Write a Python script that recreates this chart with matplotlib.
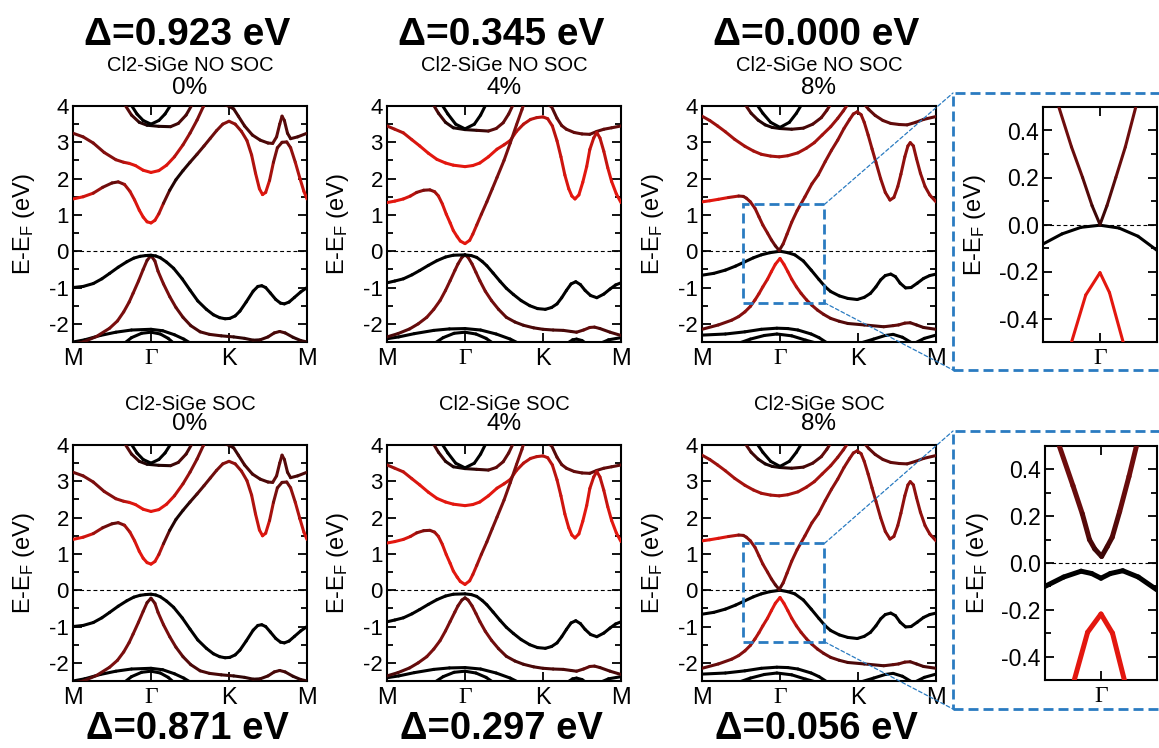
import matplotlib
matplotlib.use('Agg')
import matplotlib.pyplot as plt
import numpy as np
from matplotlib.collections import LineCollection
from matplotlib.colors import LinearSegmentedColormap
from matplotlib.patches import Rectangle, ConnectionPatch
from matplotlib.ticker import MultipleLocator, FormatStrFormatter

plt.rcParams['font.family'] = ['Liberation Sans', 'DejaVu Sans']
plt.rcParams['axes.unicode_minus'] = False
plt.rcParams['mathtext.fontset'] = 'custom'
plt.rcParams['mathtext.rm'] = 'Liberation Sans'
plt.rcParams['mathtext.it'] = 'Liberation Sans:italic'
plt.rcParams['mathtext.bf'] = 'Liberation Sans:bold'

# ---------------- data ----------------
kpath_ticks = [0, 1, 2, 3]
kpath_labels = ['M', 'Γ', 'K', 'M']
strain_labels = ['0%', '4%', '8%']
gap_nosoc = ['Δ=0.923 eV', 'Δ=0.345 eV', 'Δ=0.000 eV']
gap_soc = ['Δ=0.871 eV', 'Δ=0.297 eV', 'Δ=0.056 eV']
title_nosoc = 'Cl2-SiGe NO SOC'
title_soc = 'Cl2-SiGe SOC'

# each band: (k, E, weight)  weight: 0 = black character, 1 = red character
# ---- 0 % ----
cb1_0 = [(0.00,1.44,1.0),(0.13,1.50,1.0),(0.26,1.60,0.8),(0.38,1.76,0.5),(0.50,1.88,0.4),(0.58,1.91,0.4),
         (0.66,1.84,0.6),(0.73,1.65,0.8),(0.79,1.41,0.9),(0.85,1.13,1.0),(0.90,0.94,1.0),(0.95,0.81,1.0),
         (1.00,0.78,1.0),(1.05,0.85,1.0),(1.10,1.03,0.9),(1.16,1.32,0.6),(1.24,1.68,0.2),(1.32,1.97,0.1),
         (1.41,2.22,0.1),(1.50,2.45,0.2),(1.59,2.67,0.3),(1.68,2.90,0.4),(1.76,3.11,0.4),(1.84,3.32,0.5),
         (1.92,3.50,0.5),(2.00,3.58,0.6),(2.08,3.50,0.6),(2.16,3.30,0.6),(2.23,3.05,0.7),(2.29,2.65,0.7),
         (2.34,2.15,0.8),(2.39,1.72,0.9),(2.43,1.56,1.0),(2.47,1.62,1.0),(2.52,1.95,0.8),(2.57,2.45,0.6),
         (2.62,2.85,0.4),(2.68,3.00,0.4),(2.74,3.01,0.4),(2.79,2.85,0.5),(2.85,2.45,0.7),(2.91,2.00,0.8),
         (2.96,1.65,0.9),(3.00,1.44,1.0)]
cb1_0_soc = [(0.00,1.40,1.0),(0.13,1.46,1.0),(0.26,1.56,0.8),(0.38,1.72,0.5),(0.50,1.83,0.4),(0.58,1.86,0.4),
             (0.66,1.79,0.6),(0.73,1.60,0.8),(0.79,1.36,0.9),(0.85,1.07,1.0),(0.90,0.88,1.0),(0.95,0.76,1.0),
             (1.00,0.72,1.0),(1.05,0.79,1.0),(1.10,0.98,0.9),(1.16,1.28,0.6),(1.24,1.65,0.2),(1.32,1.95,0.1),
             (1.41,2.20,0.1),(1.50,2.43,0.2),(1.59,2.65,0.3),(1.68,2.88,0.4),(1.76,3.09,0.4),(1.84,3.30,0.5),
             (1.92,3.48,0.5),(2.00,3.55,0.6),(2.08,3.48,0.6),(2.16,3.28,0.6),(2.23,3.02,0.7),(2.29,2.62,0.7),
             (2.34,2.10,0.8),(2.39,1.66,0.9),(2.43,1.50,1.0),(2.47,1.57,1.0),(2.52,1.92,0.8),(2.57,2.42,0.6),
             (2.62,2.82,0.4),(2.68,2.97,0.4),(2.74,2.98,0.4),(2.79,2.82,0.5),(2.85,2.42,0.7),(2.91,1.96,0.8),
             (2.96,1.60,0.9),(3.00,1.40,1.0)]
cb2_0 = [(0.00,3.25,0.4),(0.13,3.15,0.5),(0.26,2.98,0.5),(0.40,2.72,0.5),(0.55,2.52,0.6),(0.65,2.45,0.7),
         (0.72,2.42,0.9),(0.80,2.36,1.0),(0.90,2.23,1.0),(1.00,2.17,1.0),(1.10,2.22,1.0),(1.20,2.37,1.0),
         (1.30,2.60,0.9),(1.41,2.93,0.7),(1.50,3.25,0.6),(1.59,3.61,0.5),(1.67,3.98,0.5),(1.72,4.20,0.5)]
cb3_0 = [(1.93,4.05,0.2),(2.00,3.99,0.2),(2.06,3.92,0.2),(2.12,3.72,0.3),(2.20,3.45,0.3),(2.30,3.20,0.3),
         (2.40,3.06,0.3),(2.50,2.98,0.3),(2.56,2.97,0.4),(2.61,3.15,0.4),(2.65,3.50,0.4),(2.68,3.72,0.4),
         (2.71,3.60,0.4),(2.75,3.25,0.3),(2.79,3.10,0.3),(2.88,3.15,0.3),(3.00,3.25,0.3)]
topA_0 = [(0.66,4.05,0.4),(0.75,3.75,0.3),(0.85,3.55,0.2),(0.95,3.47,0.1),(1.10,3.44,0.1),(1.25,3.43,0.2),
          (1.35,3.52,0.3),(1.45,3.75,0.3),(1.53,4.05,0.3)]
topB_0 = [(0.74,4.05,0),(0.82,3.78,0),(0.90,3.60,0),(1.00,3.50,0),(1.10,3.60,0),(1.18,3.78,0),(1.26,4.05,0)]
vb1_0 = [(0.00,-1.00,0),(0.13,-0.97,0),(0.26,-0.89,0),(0.37,-0.76,0),(0.47,-0.61,0),(0.58,-0.44,0),
         (0.69,-0.29,0),(0.78,-0.19,0),(0.86,-0.14,0),(0.93,-0.12,0),(1.00,-0.11,0),(1.06,-0.13,0),
         (1.12,-0.18,0),(1.20,-0.30,0),(1.29,-0.47,0),(1.40,-0.76,0),(1.50,-1.07,0),(1.60,-1.37,0),
         (1.71,-1.60,0),(1.80,-1.75,0),(1.88,-1.83,0),(1.95,-1.86,0),(2.01,-1.85,0),(2.08,-1.78,0),
         (2.14,-1.65,0),(2.22,-1.40,0),(2.31,-1.10,0),(2.37,-0.97,0),(2.42,-0.95,0),(2.47,-1.00,0),
         (2.53,-1.15,0),(2.60,-1.33,0),(2.66,-1.43,0),(2.71,-1.45,0),(2.77,-1.40,0),(2.84,-1.27,0),
         (2.92,-1.12,0),(3.00,-1.00,0)]
vb2_0 = [(0.00,-2.56,0.3),(0.13,-2.50,0.3),(0.30,-2.35,0.4),(0.47,-2.12,0.5),(0.57,-1.92,0.5),(0.65,-1.67,0.5),
         (0.72,-1.40,0.5),(0.77,-1.16,0.5),(0.84,-0.82,0.5),(0.90,-0.50,0.5),(0.95,-0.25,0.4),(1.00,-0.12,0.3),
         (1.05,-0.27,0.4),(1.09,-0.55,0.5),(1.16,-0.90,0.5),(1.24,-1.25,0.5),(1.32,-1.55,0.4),(1.41,-1.82,0.4),
         (1.51,-2.05,0.3),(1.63,-2.22,0.3),(1.75,-2.29,0.3),(1.90,-2.33,0.3),(2.06,-2.36,0.2),(2.20,-2.40,0.2),
         (2.31,-2.45,0.2),(2.40,-2.44,0.2),(2.50,-2.36,0.3),(2.58,-2.25,0.3),(2.65,-2.21,0.3),(2.72,-2.25,0.3),
         (2.82,-2.37,0.2),(2.92,-2.46,0.2),(3.00,-2.50,0.2)]
vb2_0_soc = [(0.00,-2.56,0.3),(0.13,-2.50,0.3),(0.30,-2.35,0.4),(0.47,-2.12,0.5),(0.57,-1.93,0.5),(0.65,-1.70,0.5),
             (0.72,-1.44,0.5),(0.77,-1.21,0.5),(0.84,-0.88,0.5),(0.90,-0.58,0.5),(0.95,-0.34,0.4),(1.00,-0.22,0.3),
             (1.05,-0.36,0.4),(1.09,-0.61,0.5),(1.16,-0.95,0.5),(1.24,-1.28,0.5),(1.32,-1.57,0.4),(1.41,-1.83,0.4),
             (1.51,-2.05,0.3),(1.63,-2.22,0.3),(1.75,-2.29,0.3),(1.90,-2.33,0.3),(2.06,-2.36,0.2),(2.20,-2.40,0.2),
             (2.31,-2.45,0.2),(2.40,-2.44,0.2),(2.50,-2.36,0.3),(2.58,-2.25,0.3),(2.65,-2.21,0.3),(2.72,-2.25,0.3),
             (2.82,-2.37,0.2),(2.92,-2.46,0.2),(3.00,-2.50,0.2)]
lowA_0 = [(0.00,-2.50,0),(0.15,-2.44,0),(0.35,-2.32,0),(0.55,-2.23,0),(0.75,-2.17,0),(1.00,-2.15,0),
          (1.15,-2.19,0),(1.30,-2.30,0),(1.42,-2.42,0),(1.52,-2.55,0)]
lowB_0 = [(0.65,-2.55,0),(0.75,-2.38,0),(0.88,-2.26,0),(1.00,-2.23,0),(1.12,-2.28,0),(1.22,-2.40,0),(1.30,-2.55,0)]

# ---- 4 % ----
cb1_4 = [(0.00,1.34,1.0),(0.10,1.38,1.0),(0.21,1.44,1.0),(0.30,1.52,0.9),(0.38,1.62,0.7),(0.47,1.68,0.5),
         (0.55,1.69,0.5),(0.61,1.64,0.6),(0.66,1.52,0.8),(0.71,1.30,0.9),(0.76,1.02,1.0),(0.81,0.78,1.0),
         (0.85,0.57,1.0),(0.90,0.40,1.0),(0.94,0.28,1.0),(1.00,0.21,1.0),(1.06,0.30,1.0),(1.10,0.47,0.9),
         (1.15,0.72,0.8),(1.21,1.02,0.6),(1.28,1.36,0.5),(1.35,1.72,0.5),(1.41,2.03,0.5),(1.50,2.50,0.5),
         (1.58,2.98,0.5),(1.66,3.48,0.5),(1.73,3.90,0.5),(1.76,4.10,0.5)]
cb1_4_soc = [(0.00,1.30,1.0),(0.10,1.34,1.0),(0.21,1.40,1.0),(0.30,1.48,0.9),(0.38,1.58,0.7),(0.47,1.64,0.5),
             (0.55,1.65,0.5),(0.61,1.60,0.6),(0.66,1.48,0.8),(0.71,1.26,0.9),(0.76,0.98,1.0),(0.81,0.74,1.0),
             (0.85,0.53,1.0),(0.90,0.36,1.0),(0.94,0.24,1.0),(1.00,0.16,1.0),(1.06,0.26,1.0),(1.10,0.43,0.9),
             (1.15,0.68,0.8),(1.21,0.99,0.6),(1.28,1.33,0.5),(1.35,1.70,0.5),(1.41,2.01,0.5),(1.50,2.48,0.5),
             (1.58,2.96,0.5),(1.66,3.46,0.5),(1.73,3.88,0.5),(1.76,4.10,0.5)]
cb2_4 = [(0.00,3.45,0.6),(0.10,3.36,0.7),(0.21,3.26,0.8),(0.32,3.07,0.9),(0.42,2.90,1.0),(0.53,2.70,1.0),
         (0.64,2.53,1.0),(0.75,2.43,1.0),(0.85,2.37,1.0),(1.00,2.33,1.0),(1.10,2.36,1.0),(1.19,2.43,1.0),
         (1.30,2.60,1.0),(1.41,2.81,1.0),(1.50,2.93,0.9),(1.58,3.05,0.9),(1.66,3.30,0.8),(1.75,3.50,0.8),
         (1.84,3.63,0.8),(1.92,3.68,0.8),(2.00,3.70,0.8),(2.06,3.65,0.8),(2.12,3.45,0.8),(2.18,3.04,0.8),
         (2.23,2.60,0.9),(2.28,2.10,0.9),(2.33,1.72,1.0),(2.37,1.52,1.0),(2.41,1.44,1.0),(2.46,1.55,1.0),
         (2.51,1.90,1.0),(2.56,2.33,1.0),(2.60,2.80,0.9),(2.65,3.12,0.8),(2.69,3.27,0.8),(2.73,3.12,0.8),
         (2.78,2.75,0.8),(2.83,2.30,0.9),(2.88,1.92,1.0),(2.94,1.58,1.0),(3.00,1.34,1.0)]
cb3_4 = [(2.05,4.05,0.3),(2.11,3.98,0.3),(2.18,3.66,0.4),(2.24,3.46,0.4),(2.30,3.36,0.4),(2.40,3.27,0.4),
         (2.50,3.23,0.4),(2.60,3.22,0.4),(2.69,3.30,0.4),(2.78,3.36,0.4),(2.88,3.40,0.4),(3.00,3.45,0.4)]
topA_4 = [(0.59,4.05,0.3),(0.66,3.80,0.3),(0.75,3.55,0.2),(0.85,3.40,0.1),(1.00,3.35,0.1),(1.15,3.33,0.2),
          (1.30,3.31,0.3),(1.40,3.38,0.4),(1.49,3.54,0.4),(1.56,3.78,0.4),(1.62,4.05,0.4)]
topB_4 = [(0.70,4.05,0),(0.78,3.78,0),(0.88,3.50,0),(1.00,3.37,0),(1.12,3.50,0),(1.20,3.75,0),(1.27,4.05,0)]
vb1_4 = [(0.00,-0.87,0),(0.10,-0.82,0),(0.21,-0.76,0),(0.32,-0.65,0),(0.42,-0.53,0),(0.53,-0.39,0),
         (0.64,-0.26,0),(0.75,-0.16,0),(0.85,-0.11,0),(1.00,-0.10,0),(1.08,-0.12,0),(1.15,-0.17,0),
         (1.22,-0.28,0),(1.28,-0.40,0),(1.36,-0.60,0),(1.45,-0.83,0),(1.53,-1.02,0),(1.62,-1.19,0),
         (1.72,-1.36,0),(1.83,-1.50,0),(1.93,-1.58,0),(2.03,-1.60,0),(2.11,-1.55,0),(2.18,-1.45,0),
         (2.24,-1.28,0),(2.30,-1.08,0),(2.36,-0.90,0),(2.42,-0.84,0),(2.48,-0.92,0),(2.54,-1.08,0),
         (2.61,-1.22,0),(2.69,-1.28,0),(2.78,-1.18,0),(2.86,-1.04,0),(2.93,-0.93,0),(3.00,-0.87,0)]
vb2_4 = [(0.00,-2.36,0.3),(0.14,-2.27,0.3),(0.29,-2.14,0.4),(0.40,-2.00,0.4),(0.51,-1.82,0.5),(0.60,-1.60,0.5),
         (0.68,-1.36,0.5),(0.75,-1.08,0.5),(0.81,-0.81,0.5),(0.87,-0.53,0.5),(0.91,-0.35,0.5),(0.96,-0.17,0.4),
         (1.00,-0.10,0.3),(1.04,-0.17,0.4),(1.09,-0.35,0.5),(1.14,-0.58,0.5),(1.19,-0.81,0.5),(1.26,-1.10,0.5),
         (1.34,-1.36,0.5),(1.43,-1.60,0.4),(1.53,-1.82,0.4),(1.64,-1.95,0.3),(1.75,-2.04,0.3),(1.88,-2.11,0.3),
         (2.00,-2.15,0.3),(2.13,-2.17,0.3),(2.26,-2.18,0.3),(2.36,-2.21,0.3),(2.43,-2.23,0.3),(2.52,-2.17,0.4),
         (2.60,-2.10,0.4),(2.66,-2.09,0.4),(2.73,-2.13,0.3),(2.86,-2.23,0.3),(3.00,-2.32,0.3)]
vb2_4_soc = [(0.00,-2.36,0.3),(0.14,-2.27,0.3),(0.29,-2.14,0.4),(0.40,-2.00,0.4),(0.51,-1.83,0.5),(0.60,-1.62,0.5),
             (0.68,-1.39,0.5),(0.75,-1.12,0.5),(0.81,-0.86,0.5),(0.87,-0.60,0.5),(0.91,-0.43,0.5),(0.96,-0.27,0.4),
             (1.00,-0.21,0.3),(1.04,-0.27,0.4),(1.09,-0.43,0.5),(1.14,-0.64,0.5),(1.19,-0.86,0.5),(1.26,-1.13,0.5),
             (1.34,-1.38,0.5),(1.43,-1.61,0.4),(1.53,-1.82,0.4),(1.64,-1.95,0.3),(1.75,-2.04,0.3),(1.88,-2.11,0.3),
             (2.00,-2.15,0.3),(2.13,-2.17,0.3),(2.26,-2.18,0.3),(2.36,-2.21,0.3),(2.43,-2.23,0.3),(2.52,-2.17,0.4),
             (2.60,-2.10,0.4),(2.66,-2.09,0.4),(2.73,-2.13,0.3),(2.86,-2.23,0.3),(3.00,-2.32,0.3)]
lowA_4 = [(0.00,-2.41,0),(0.15,-2.36,0),(0.35,-2.27,0),(0.60,-2.18,0),(0.80,-2.14,0),(1.00,-2.13,0),
          (1.20,-2.17,0),(1.40,-2.28,0),(1.58,-2.42,0),(1.70,-2.55,0)]
lowB_4 = [(0.60,-2.55,0),(0.72,-2.38,0),(0.86,-2.26,0),(1.00,-2.23,0),(1.14,-2.28,0),(1.27,-2.40,0),(1.37,-2.55,0)]
lowC_4 = [(2.30,-2.55,0),(2.38,-2.44,0),(2.43,-2.42,0),(2.50,-2.46,0),(2.56,-2.55,0)]
lowD_4 = [(2.72,-2.55,0),(2.84,-2.44,0),(3.00,-2.38,0)]

# ---- 8 % ----
cb1_8 = [(0.00,1.36,1.0),(0.10,1.39,1.0),(0.21,1.43,1.0),(0.34,1.48,0.9),(0.47,1.52,0.6),(0.53,1.51,0.5),
         (0.57,1.46,0.5),(0.62,1.36,0.6),(0.68,1.18,0.6),(0.73,0.95,0.6),(0.78,0.72,0.6),(0.84,0.50,0.6),
         (0.89,0.31,0.5),(0.94,0.15,0.4),(0.99,0.02,0.3),(1.04,0.20,0.5),(1.09,0.47,0.6),(1.15,0.80,0.6),
         (1.22,1.12,0.6),(1.32,1.50,0.6),(1.41,1.86,0.6),(1.49,2.10,0.6),(1.58,2.47,0.6),(1.66,2.78,0.6),
         (1.74,3.06,0.6),(1.82,3.38,0.6),(1.89,3.62,0.6),(1.94,3.78,0.6),(1.99,3.84,0.6),(2.04,3.76,0.6),
         (2.08,3.55,0.6),(2.13,3.20,0.6),(2.18,2.82,0.6),(2.23,2.45,0.6),(2.29,2.00,0.6),(2.35,1.62,0.6),
         (2.41,1.41,0.6),(2.46,1.48,0.6),(2.51,1.78,0.6),(2.55,2.12,0.6),(2.60,2.60,0.6),(2.64,2.90,0.6),
         (2.67,2.99,0.6),(2.71,2.90,0.6),(2.75,2.55,0.6),(2.80,2.15,0.6),(2.86,1.78,0.6),(2.92,1.55,0.6),
         (3.00,1.36,0.7)]
cb2_8 = [(0.00,3.72,0.6),(0.10,3.60,0.6),(0.20,3.45,0.7),(0.30,3.29,0.7),(0.42,3.08,0.7),(0.55,2.89,0.7),
         (0.66,2.76,0.7),(0.76,2.67,0.7),(0.88,2.62,0.7),(0.99,2.60,0.7),(1.10,2.63,0.7),(1.23,2.71,0.7),
         (1.34,2.84,0.7),(1.44,2.99,0.7),(1.54,3.20,0.7),(1.65,3.43,0.7),(1.74,3.66,0.6),(1.81,3.86,0.6),
         (1.87,4.05,0.6)]
cb3_8 = [(2.08,4.05,0.4),(2.14,3.90,0.4),(2.22,3.74,0.4),(2.32,3.60,0.4),(2.42,3.52,0.4),(2.53,3.49,0.4),
         (2.63,3.48,0.4),(2.74,3.55,0.4),(2.84,3.63,0.4),(3.00,3.71,0.4)]
topA_8 = [(0.55,4.05,0.4),(0.63,3.80,0.3),(0.72,3.61,0.2),(0.81,3.48,0.1),(0.90,3.41,0.1),(1.00,3.38,0.1),
          (1.15,3.36,0.2),(1.30,3.39,0.3),(1.42,3.50,0.3),(1.53,3.68,0.4),(1.60,3.88,0.4),(1.65,4.05,0.4)]
topB_8 = [(0.70,4.05,0),(0.78,3.80,0),(0.88,3.55,0),(1.00,3.41,0),(1.12,3.55,0),(1.21,3.80,0),(1.28,4.05,0)]
vb1_8 = [(0.00,-0.66,0),(0.15,-0.61,0),(0.30,-0.52,0),(0.43,-0.41,0),(0.55,-0.29,0),(0.66,-0.18,0),
         (0.76,-0.10,0),(0.87,-0.04,0),(1.00,0.00,0),(1.10,-0.04,0),(1.19,-0.10,0),(1.30,-0.27,0),
         (1.40,-0.52,0),(1.50,-0.78,0),(1.58,-0.98,0),(1.65,-1.11,0),(1.76,-1.23,0),(1.87,-1.30,0),
         (1.99,-1.33,0),(2.08,-1.27,0),(2.16,-1.16,0),(2.23,-0.98,0),(2.29,-0.79,0),(2.35,-0.67,0),
         (2.42,-0.63,0),(2.48,-0.70,0),(2.54,-0.88,0),(2.61,-1.01,0),(2.68,-1.00,0),(2.76,-0.88,0),
         (2.84,-0.75,0),(2.92,-0.67,0),(3.00,-0.63,0)]
vb2_8 = [(0.00,-2.15,0.4),(0.21,-2.03,0.4),(0.38,-1.90,0.5),(0.47,-1.80,0.5),(0.55,-1.67,0.6),(0.62,-1.52,0.6),
         (0.68,-1.34,0.7),(0.73,-1.17,0.8),(0.78,-0.98,0.8),(0.84,-0.77,0.9),(0.89,-0.56,1.0),(0.94,-0.36,1.0),
         (1.00,-0.20,1.0),(1.05,-0.36,1.0),(1.10,-0.56,1.0),(1.15,-0.77,0.9),(1.21,-0.98,0.8),(1.27,-1.16,0.7),
         (1.34,-1.34,0.6),(1.41,-1.49,0.6),(1.48,-1.62,0.5),(1.56,-1.74,0.5),(1.65,-1.85,0.4),(1.76,-1.93,0.4),
         (1.87,-1.99,0.3),(2.08,-2.03,0.3),(2.33,-2.08,0.3),(2.45,-2.05,0.4),(2.52,-2.03,0.4),(2.60,-1.98,0.4),
         (2.67,-1.97,0.4),(2.75,-2.03,0.3),(2.84,-2.10,0.3),(3.00,-2.15,0.3)]
lowA_8 = [(0.00,-2.31,0),(0.30,-2.28,0),(0.55,-2.22,0),(0.76,-2.15,0),(0.96,-2.12,0),(1.10,-2.13,0),
          (1.23,-2.17,0),(1.40,-2.28,0),(1.50,-2.38,0),(1.60,-2.52,0)]
lowB_8 = [(0.45,-2.55,0),(0.62,-2.42,0),(0.80,-2.32,0),(0.96,-2.28,0),(1.15,-2.33,0),(1.33,-2.45,0),(1.50,-2.55,0)]
lowC_8 = [(2.00,-2.55,0),(2.20,-2.42,0),(2.35,-2.32,0),(2.45,-2.29,0),(2.57,-2.37,0),(2.71,-2.55,0)]
lowD_8 = [(2.71,-2.55,0),(2.85,-2.40,0),(3.00,-2.31,0)]

# ---- zoomed insets around Gamma (8 %), k relative to Gamma ----
ins_nosoc_cb = [(-0.130,0.50,0.45),(-0.090,0.33,0.45),(-0.055,0.20,0.4),(-0.025,0.08,0.3),(0.0,0.0,0.2),
                (0.022,0.08,0.3),(0.050,0.20,0.4),(0.080,0.33,0.45),(0.113,0.50,0.45)]
ins_nosoc_vb = [(-0.18,-0.083,0),(-0.12,-0.040,0),(-0.06,-0.012,0),(0.0,-0.003,0),(0.06,-0.015,0),
                (0.12,-0.050,0),(0.18,-0.110,0)]
ins_nosoc_red = [(-0.092,-0.51,1),(-0.045,-0.30,1),(0.0,-0.205,1),(0.030,-0.29,1),(0.075,-0.51,1)]
ins_soc_cb = [(-0.134,0.50,0.45),(-0.090,0.33,0.45),(-0.060,0.21,0.4),(-0.037,0.10,0.3),(-0.020,0.06,0.3),
              (0.002,0.028,0.2),(0.020,0.07,0.3),(0.036,0.11,0.3),(0.060,0.22,0.4),(0.090,0.37,0.45),(0.114,0.50,0.45)]
ins_soc_vb = [(-0.18,-0.100,0),(-0.12,-0.060,0),(-0.064,-0.035,0),(-0.03,-0.045,0),(0.0,-0.065,0),
              (0.03,-0.045,0),(0.07,-0.033,0),(0.12,-0.060,0),(0.18,-0.115,0)]
ins_soc_red = [(-0.088,-0.51,1),(-0.043,-0.296,1),(0.0,-0.218,1),(0.037,-0.30,1),(0.077,-0.51,1)]

bands_nosoc = [
    [lowA_0, lowB_0, vb2_0, vb1_0, topA_0, topB_0, cb3_0, cb2_0, cb1_0],
    [lowA_4, lowB_4, lowC_4, lowD_4, vb2_4, vb1_4, topA_4, topB_4, cb3_4, cb2_4, cb1_4],
    [lowA_8, lowB_8, lowC_8, lowD_8, vb2_8, vb1_8, topA_8, topB_8, cb3_8, cb2_8, cb1_8],
]
bands_soc = [
    [lowA_0, lowB_0, vb2_0_soc, vb1_0, topA_0, topB_0, cb3_0, cb2_0, cb1_0_soc],
    [lowA_4, lowB_4, lowC_4, lowD_4, vb2_4_soc, vb1_4, topA_4, topB_4, cb3_4, cb2_4, cb1_4_soc],
    [lowA_8, lowB_8, lowC_8, lowD_8, vb2_8, vb1_8, topA_8, topB_8, cb3_8, cb2_8, cb1_8],
]
insets = [
    [ins_nosoc_vb, ins_nosoc_red, ins_nosoc_cb],
    [ins_soc_vb, ins_soc_red, ins_soc_cb],
]

# ---------------- drawing ----------------
cmap = LinearSegmentedColormap.from_list('proj', ['#000000', '#7a0e0e', '#e3170f'])
BLUE = '#2a7bc1'

W, H = 1159, 748
fig = plt.figure(figsize=(W / 100, H / 100), dpi=100)


def fx(px):
    return px / W


def fy(py):
    return 1 - py / H


def draw_band(ax, pts, lw):
    arr = np.array(pts, dtype=float)
    k, e, w = arr[:, 0], arr[:, 1], arr[:, 2]
    p = np.column_stack([k, e])
    segs = np.stack([p[:-1], p[1:]], axis=1)
    cw = 0.5 * (w[:-1] + w[1:])
    lc = LineCollection(segs, colors=cmap(cw), linewidths=lw, capstyle='round',
                        joinstyle='round', zorder=3)
    ax.add_collection(lc)


def style_common(ax):
    ax.tick_params(which='both', direction='in', top=True, right=True, width=1.3)
    ax.tick_params(which='major', length=6.5)
    ax.tick_params(which='minor', length=4.0)
    ax.tick_params(axis='y', labelsize=16, pad=3)
    ax.tick_params(axis='x', which='minor', bottom=False, top=False)
    ax.tick_params(axis='x', labelsize=17, pad=4)
    for s in ax.spines.values():
        s.set_linewidth(1.5)
    ax.axhline(0, color='k', lw=0.8, ls=(0, (3.5, 2.5)), zorder=1)


col_left = [73, 387, 702]
row_top = [106, 445]
axes_main = []
for r, (bands_row, gaps, ttl) in enumerate([(bands_nosoc, gap_nosoc, title_nosoc),
                                            (bands_soc, gap_soc, title_soc)]):
    for c in range(3):
        ax = fig.add_axes([fx(col_left[c]), fy(row_top[r] + 236), fx(234), 236 / H])
        for b in bands_row[c]:
            draw_band(ax, b, 2.2)
        ax.set_xlim(0, 3)
        ax.set_ylim(-2.5, 4)
        ax.set_xticks(kpath_ticks)
        ax.set_xticklabels(kpath_labels)
        ax.get_xticklabels()[1].set_fontfamily('Liberation Serif')
        ax.set_yticks(range(-2, 5))
        ax.yaxis.set_minor_locator(MultipleLocator(0.5))
        style_common(ax)
        ax.set_ylabel(r'E-E$_{\rm F}$ (eV)', fontsize=17)
        ax.yaxis.set_label_coords(-0.155, 0.5)
        xc = fx(col_left[c] + 117 - 3)
        if r == 0:
            fig.text(xc, fy(45), gaps[c], fontsize=28, fontweight='bold', ha='center', va='baseline')
            fig.text(fx(col_left[c] + 117), fy(71), ttl, fontsize=14.5, ha='center', va='baseline')
            fig.text(fx(col_left[c] + 117), fy(94), strain_labels[c], fontsize=17.5, ha='center', va='baseline')
        else:
            fig.text(fx(col_left[c] + 117), fy(410.5), ttl, fontsize=14.5, ha='center', va='baseline')
            fig.text(fx(col_left[c] + 117), fy(430), strain_labels[c], fontsize=17.5, ha='center', va='baseline')
            fig.text(xc, fy(739), gaps[c], fontsize=27.5, fontweight='bold', ha='center', va='baseline')
        axes_main.append(ax)

# insets
inset_rects = [(1043, 107, 114, 235), (1045, 446, 112, 234)]
inset_lw = [2.2, 3.6]
box_y = [(93, 370), (431, 709)]
for i in range(2):
    x0, y0, w0, h0 = inset_rects[i]
    axi = fig.add_axes([fx(x0), fy(y0 + h0), fx(w0), h0 / H])
    for b in insets[i]:
        draw_band(axi, b, inset_lw[i])
    axi.set_xlim(-0.18, 0.18)
    axi.set_ylim(-0.5, 0.5)
    axi.set_xticks([0])
    axi.set_xticklabels(['Γ'])
    axi.get_xticklabels()[0].set_fontfamily('Liberation Serif')
    axi.set_yticks([-0.4, -0.2, 0.0, 0.2, 0.4])
    axi.yaxis.set_major_formatter(FormatStrFormatter('%.1f'))
    axi.yaxis.set_minor_locator(MultipleLocator(0.1))
    style_common(axi)
    axi.tick_params(axis='y', labelsize=16.5)
    axi.set_ylabel(r'E-E$_{\rm F}$ (eV)', fontsize=17)
    axi.yaxis.set_label_coords(-0.48, 0.5)

    # big dashed frame around inset
    ya, yb = box_y[i]
    fig.add_artist(Rectangle((fx(953), fy(yb)), 0.3, (yb - ya) / H, transform=fig.transFigure,
                             fill=False, edgecolor=BLUE, lw=2.0, ls=(0, (3.6, 1.8)), zorder=10))
    # small dashed box in the 8 % panel
    axm = axes_main[3 * i + 2]
    axm.add_patch(Rectangle((0.52, -1.42), 1.05, 2.71, fill=False, edgecolor=BLUE, lw=2.0,
                            ls=(0, (3.6, 1.8)), zorder=6))
    for (xa, yy), yfig in [((1.57, 1.29), ya), ((1.57, -1.42), yb)]:
        con = ConnectionPatch(xyA=(xa, yy), coordsA=axm.transData,
                              xyB=(fx(953), fy(yfig)), coordsB=fig.transFigure,
                              color=BLUE, lw=0.9, ls=(0, (3, 2)), zorder=9)
        fig.add_artist(con)

fig.savefig('out.png', dpi=100)
